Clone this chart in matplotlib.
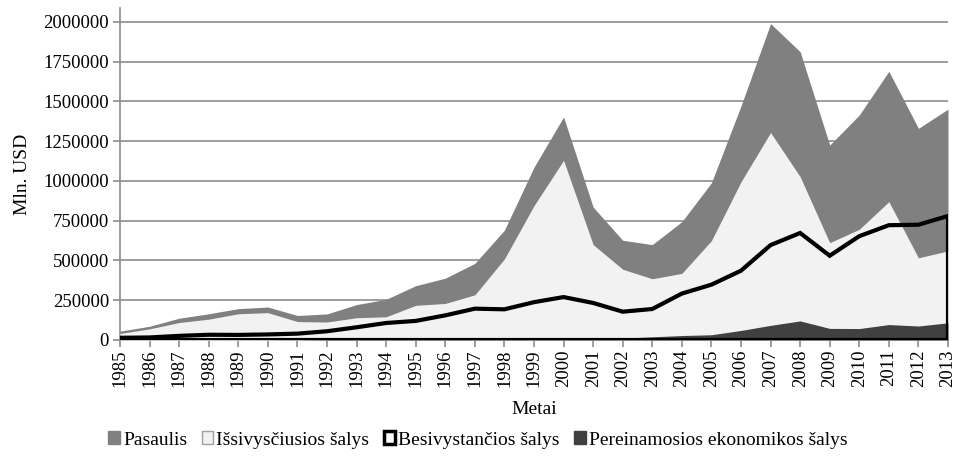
import matplotlib
matplotlib.use("Agg")
import matplotlib.pyplot as plt
from matplotlib.patches import Patch

years = list(range(1985, 2014))
pasaulis = [55800, 86400, 136900, 164900, 197200, 207400, 154100, 163900, 222600, 255900,
            341500, 388800, 481900, 690900, 1086800, 1402700, 836000, 627000, 600000, 744000,
            989000, 1472000, 1990000, 1813000, 1226000, 1415000, 1690000, 1331000, 1452000]
issivysciusios = [41000, 70000, 110000, 131000, 165000, 172000, 116000, 113000, 140000, 146000,
                  218000, 230000, 284000, 510000, 845000, 1130000, 600000, 445000, 385000, 419000,
                  625000, 995000, 1305000, 1027000, 612000, 696000, 870000, 517000, 560000]
besivystancios = [14000, 16000, 26000, 33000, 32000, 35000, 40000, 55000, 80000, 107000,
                  120000, 155000, 197000, 193000, 238000, 270000, 233000, 178000, 195000, 292000,
                  348000, 436000, 597000, 673000, 530000, 653000, 722000, 725000, 780000]
pereinamosios = [0, 0, 0, 0, 0, 100, 1000, 3000, 7000, 6000,
                 9000, 8000, 13000, 10000, 8000, 7000, 9000, 12000, 20000, 28000,
                 33000, 60000, 92000, 120000, 73000, 72000, 97000, 88000, 108000]
yticks = [0, 250000, 500000, 750000, 1000000, 1250000, 1500000, 1750000, 2000000]

plt.rcParams['font.family'] = ['Liberation Serif', 'DejaVu Serif']

fig = plt.figure(figsize=(9.59, 4.58), dpi=100)
ax = fig.add_axes([120/959, 1-340/458, (948-120)/959, (340-8)/458])

ax.set_axisbelow(True)
ax.yaxis.grid(True, color='#8c8c8c', linewidth=1.2)

ax.fill_between(years, 0, pasaulis, color='#808080', linewidth=0, zorder=2)
ax.fill_between(years, 0, issivysciusios, color='#f2f2f2', linewidth=0, zorder=3)
ax.fill_between(years, 0, pereinamosios, color='#404040', linewidth=0, zorder=5)
# Besivystančios šalys: area with no fill, thick black border
bx = [years[0]] + years + [years[-1]]
by = [0] + besivystancios + [0]
ax.plot(bx, by, color='black', linewidth=3, zorder=6, solid_joinstyle='miter')
ax.plot([years[0], years[-1]], [0, 0], color='black', linewidth=3, zorder=6)

ax.set_xlim(years[0], years[-1])
ax.set_ylim(0, 2088000)
ax.set_yticks(yticks)
ax.set_yticklabels([str(v) for v in yticks], fontsize=13.5)
ax.set_xticks(years)
ax.set_xticklabels([str(y) for y in years], rotation=90, fontsize=13.5)
ax.tick_params(axis='x', direction='out', length=5, color='#8c8c8c', width=1.2, pad=2)
ax.tick_params(axis='y', direction='out', length=5, color='#8c8c8c', width=1.2, pad=3)

for s in ['top', 'right']:
    ax.spines[s].set_visible(False)
ax.spines['left'].set_color('#8c8c8c')
ax.spines['left'].set_linewidth(1.2)
ax.spines['bottom'].set_color('#8c8c8c')
ax.spines['bottom'].set_linewidth(1.2)

ax.set_ylabel('Mln. USD', fontsize=14, labelpad=9)
ax.set_xlabel('Metai', fontsize=14, labelpad=10)

handles = [
    Patch(facecolor='#808080', edgecolor='#808080', label='Pasaulis'),
    Patch(facecolor='#f2f2f2', edgecolor='#a0a0a0', linewidth=1, label='Išsivysčiusios šalys'),
    Patch(facecolor='white', edgecolor='black', linewidth=2.5, label='Besivystančios šalys'),
    Patch(facecolor='#404040', edgecolor='#404040', label='Pereinamosios ekonomikos šalys'),
]
fig.legend(handles=handles, loc='center', bbox_to_anchor=(478/959, 1-440/458), ncol=4,
           frameon=False, fontsize=14, handlelength=0.6, handleheight=0.6,
           handletextpad=0.15, columnspacing=0.75)

fig.savefig('out.png', dpi=100)
